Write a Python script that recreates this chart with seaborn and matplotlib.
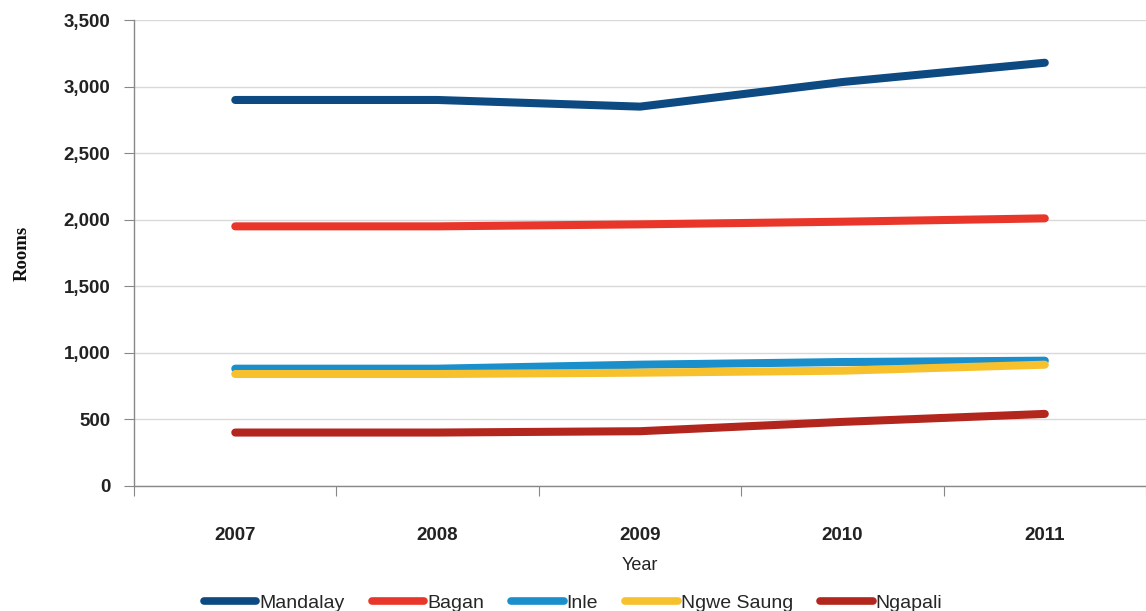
import numpy as np
import pandas as pd
import matplotlib
matplotlib.use('Agg')
import matplotlib.pyplot as plt
import seaborn as sns

# Data
years = ['2007', '2008', '2009', '2010', '2011']
mandalay = [2900, 2900, 2850, 3035, 3180]
bagan = [1950, 1950, 1965, 1985, 2010]
inle = [880, 880, 910, 930, 940]
ngwe_saung = [840, 840, 850, 865, 910]
ngapali = [400, 400, 410, 480, 540]

series = {
    'Mandalay': mandalay,
    'Bagan': bagan,
    'Inle': inle,
    'Ngwe Saung': ngwe_saung,
    'Ngapali': ngapali,
}
colors = ['#0d4a82', '#e8372a', '#1a8fcb', '#f7c12d', '#b3261e']

rows = []
for name, vals in series.items():
    for i, v in enumerate(vals):
        rows.append({'pos': i, 'Rooms': v, 'Destination': name})
df = pd.DataFrame(rows)

sns.set_style('white')
plt.rcParams['font.family'] = ['Liberation Sans', 'DejaVu Sans']

fig = plt.figure(figsize=(11.46, 6.11), dpi=100)
ax = fig.add_axes([0.117, 0.205, 0.883, 0.762])

sns.lineplot(data=df, x='pos', y='Rooms', hue='Destination',
             palette=colors, linewidth=5.8, solid_capstyle='round',
             ax=ax, legend=False)

ax.set_xlim(-0.5, 4.5)
ax.set_ylim(0, 3500)
ax.set_yticks(np.arange(0, 3501, 500))
ax.set_yticklabels([f'{v:,}' for v in range(0, 3501, 500)],
                   fontsize=13.5, fontweight='bold', color='#222222')
ax.yaxis.grid(True, color='#d9d9d9', linewidth=1)
ax.set_axisbelow(True)

# category boundaries as major ticks, labels on minor ticks
ax.set_xticks(np.arange(-0.5, 4.6, 1))
ax.set_xticklabels([])
ax.set_xticks(np.arange(len(years)), minor=True)
ax.set_xticklabels(years, minor=True, fontsize=13.5, fontweight='bold', color='#222222')
ax.tick_params(axis='x', which='major', length=7, color='#888888', direction='out', bottom=True)
ax.tick_params(axis='x', which='minor', length=0, pad=30)
ax.tick_params(axis='y', length=7, color='#888888', direction='out', left=True, pad=10)

for s in ['top', 'right']:
    ax.spines[s].set_visible(False)
for s in ['left', 'bottom']:
    ax.spines[s].set_color('#888888')
    ax.spines[s].set_linewidth(1)

ax.set_xlabel('Year', fontsize=13, color='#222222', labelpad=9)
ax.set_ylabel('Rooms', fontsize=13.5, fontweight='bold', family='Liberation Serif',
              color='#111111', labelpad=24)

handles = [plt.Line2D([0], [0], color=c, linewidth=5.5, solid_capstyle='round') for c in colors]
fig.legend(handles, list(series.keys()), loc='lower center', bbox_to_anchor=(0.5, -0.03),
           ncol=5, frameon=False, fontsize=14, handlelength=2.7, handletextpad=0.15,
           columnspacing=1.4)

fig.savefig('out.png', dpi=100)
